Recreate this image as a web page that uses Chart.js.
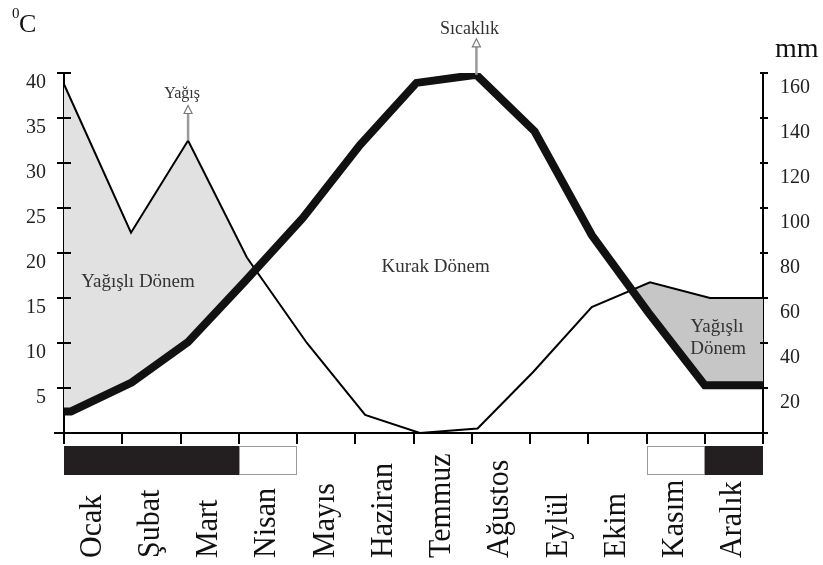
<!DOCTYPE html>
<html>
<head>
<meta charset="utf-8">
<script src="https://cdn.jsdelivr.net/npm/chart.js@4.4.0/dist/chart.umd.min.js"></script>
<style>
  html, body { margin: 0; padding: 0; background: #fff; }
</style>
</head>
<body>
<canvas id="climateChart" width="823" height="565"></canvas>
<script>
// aylar
const months = ['Ocak', 'Şubat', 'Mart', 'Nisan', 'Mayıs', 'Haziran', 'Temmuz', 'Ağustos', 'Eylül', 'Ekim', 'Kasım', 'Aralık'];

// sıcaklık (°C), x = ay ekseni üzerindeki konum
const tempX = [0, 0.12, 1.16, 2.13, 3.1, 4.1, 5.08, 6.05, 7.08, 8.08, 9.06, 10.03, 11.0, 12];
const tempC = [2.4, 2.4, 5.6, 10.1, 16.8, 23.9, 32.0, 38.9, 39.8, 33.5, 22.0, 13.4, 5.3, 5.3];

// yağış (mm)
const precipX = [0, 1.15, 2.13, 3.14, 4.17, 5.17, 6.11, 7.1, 8.05, 9.06, 10.06, 11.09, 12];
const precipMm = [155, 89, 130, 78, 40, 8, 0, 2, 27, 56, 67, 60, 60];

// eksen etiketleri
const tempTicks = [0, 5, 10, 15, 20, 25, 30, 35, 40];
const precipTicks = [0, 20, 40, 60, 80, 100, 120, 140, 160];

// alt şerit
const wetMonths = ['Ocak', 'Şubat', 'Mart', 'Aralık'];
const transitionMonths = ['Nisan', 'Kasım'];

const SERIF = "'Liberation Serif', 'Times New Roman', serif";

function fillShade(context) {
    const chart = context.chart;
    const area = chart.chartArea;
    if (!area) return 'rgba(0,0,0,0)';
    const g = chart.ctx.createLinearGradient(area.left, 0, area.right, 0);
    g.addColorStop(0, '#e1e1e1');
    g.addColorStop(0.5, '#e1e1e1');
    g.addColorStop(0.5, '#c6c6c6');
    g.addColorStop(1, '#c6c6c6');
    return g;
}

function drawArrow(ctx, px, py, len) {
    const tip = py - len;
    ctx.strokeStyle = '#9a9a9a';
    ctx.lineWidth = 2.5;
    ctx.beginPath();
    ctx.moveTo(px, py);
    ctx.lineTo(px, tip + 8);
    ctx.stroke();
    ctx.beginPath();
    ctx.moveTo(px, tip);
    ctx.lineTo(px - 4, tip + 8);
    ctx.lineTo(px + 4, tip + 8);
    ctx.closePath();
    ctx.fillStyle = '#fff';
    ctx.fill();
    ctx.lineWidth = 1.2;
    ctx.strokeStyle = '#7a7a7a';
    ctx.stroke();
}

const extras = {
    id: 'extras',
    afterDraw(chart) {
        const ctx = chart.ctx;
        const xs = chart.scales.x, yT = chart.scales.yTemp, yP = chart.scales.yPrecip;
        const area = chart.chartArea;
        ctx.save();

        // eksen içine taşan çentikler
        ctx.strokeStyle = '#000';
        ctx.lineWidth = 2;
        ctx.beginPath();
        yT.ticks.forEach(t => {
            const py = yT.getPixelForValue(t.value);
            ctx.moveTo(area.left, py); ctx.lineTo(area.left + 7, py);
        });
        yP.ticks.forEach(t => {
            const py = yP.getPixelForValue(t.value);
            ctx.moveTo(area.right - 3, py); ctx.lineTo(area.right, py);
        });
        ctx.moveTo(area.left - 10, area.bottom); ctx.lineTo(area.left, area.bottom);
        ctx.moveTo(area.right, area.bottom); ctx.lineTo(area.right + 5, area.bottom);
        ctx.stroke();

        // yağışlı / geçiş ayları şeridi (bitişik aylar tek blok)
        const barTop = area.bottom + 13, barH = 29;
        const wetIdx = wetMonths.map(m => months.indexOf(m)).sort((a, b) => a - b);
        let runs = [];
        wetIdx.forEach(i => {
            const last = runs[runs.length - 1];
            if (last && last[1] === i) last[1] = i + 1; else runs.push([i, i + 1]);
        });
        ctx.fillStyle = '#231f20';
        runs.forEach(r => {
            const x0 = Math.round(xs.getPixelForValue(r[0])), x1 = Math.round(xs.getPixelForValue(r[1]));
            ctx.fillRect(x0, barTop, x1 - x0, barH);
        });
        transitionMonths.forEach(m => {
            const i = months.indexOf(m);
            const x0 = Math.round(xs.getPixelForValue(i)), x1 = Math.round(xs.getPixelForValue(i + 1));
            ctx.fillStyle = '#fff';
            ctx.fillRect(x0, barTop, x1 - x0, barH);
            ctx.strokeStyle = '#9a9a9a';
            ctx.lineWidth = 1;
            ctx.strokeRect(x0 + 0.5, barTop + 0.5, x1 - x0 - 1, barH - 1);
        });

        // ay isimleri (aşağıdan yukarı)
        ctx.fillStyle = '#111';
        ctx.font = '30px ' + SERIF;
        ctx.textAlign = 'left';
        ctx.textBaseline = 'middle';
        months.forEach((m, i) => {
            const px = xs.getPixelForValue(i + 0.5);
            ctx.save();
            ctx.translate(px - 1, 558);
            ctx.rotate(-Math.PI / 2);
            ctx.scale(1, 1.08);
            ctx.fillText(m, 0, 0);
            ctx.restore();
        });

        // oklar
        const pIdx = precipMm.indexOf(Math.max(...precipMm.slice(1, 4)));
        const ppx = xs.getPixelForValue(precipX[pIdx]), ppy = yP.getPixelForValue(precipMm[pIdx]);
        drawArrow(ctx, ppx, ppy, 35);
        const tIdx = tempC.indexOf(Math.max(...tempC));
        const tpx = xs.getPixelForValue(tempX[tIdx]), tpy = yT.getPixelForValue(tempC[tIdx]);
        drawArrow(ctx, tpx, tpy, 36);

        ctx.fillStyle = '#333';
        ctx.textAlign = 'center';
        ctx.textBaseline = 'alphabetic';
        ctx.font = '16px ' + SERIF;
        ctx.fillText('Yağış', ppx - 6, ppy - 43);
        ctx.font = '18px ' + SERIF;
        ctx.fillText('Sıcaklık', tpx - 7, tpy - 41);

        // dönem etiketleri
        ctx.font = '19px ' + SERIF;
        ctx.fillText('Yağışlı Dönem', xs.getPixelForValue(1.27), yT.getPixelForValue(16.26));
        ctx.fillText('Kurak Dönem', xs.getPixelForValue(6.38), yT.getPixelForValue(17.86));
        ctx.fillText('Yağışlı', xs.getPixelForValue(11.21), yT.getPixelForValue(11.26));
        ctx.fillText('Dönem', xs.getPixelForValue(11.23), yT.getPixelForValue(8.74));

        // birimler
        ctx.fillStyle = '#111';
        ctx.textAlign = 'left';
        ctx.font = '15px ' + SERIF;
        ctx.fillText('0', area.left - 52, 18);
        ctx.font = '26px ' + SERIF;
        ctx.fillText('C', area.left - 45, 32);
        ctx.font = '28px ' + SERIF;
        ctx.fillText('mm', area.right + 12, 57);

        ctx.restore();
    }
};

const ctx = document.getElementById('climateChart').getContext('2d');
new Chart(ctx, {
    type: 'line',
    data: {
        datasets: [{
            label: 'Sıcaklık',
            data: tempX.map((x, i) => ({ x: x, y: tempC[i] })),
            yAxisID: 'yTemp',
            borderColor: '#111',
            borderWidth: 8,
            borderJoinStyle: 'miter',
            pointRadius: 0,
            fill: false,
            order: 0
        }, {
            label: 'Yağış',
            data: precipX.map((x, i) => ({ x: x, y: precipMm[i] })),
            yAxisID: 'yPrecip',
            borderColor: '#000',
            borderWidth: 2,
            pointRadius: 0,
            backgroundColor: fillShade,
            fill: { target: 0, below: 'rgba(0,0,0,0)' },
            order: 1
        }]
    },
    options: {
        responsive: false,
        animation: false,
        layout: { padding: { top: 73, left: 0, right: 0, bottom: 0 } },
        plugins: { legend: { display: false }, tooltip: { enabled: false } },
        scales: {
            x: {
                type: 'linear',
                min: 0, max: 12,
                ticks: { stepSize: 1, display: false },
                grid: { drawOnChartArea: false, tickLength: 11, tickColor: '#000', lineWidth: 2 },
                border: { color: '#000', width: 2 },
                afterFit: s => { s.height = 132; }
            },
            yTemp: {
                position: 'left',
                min: 0, max: 40,
                afterBuildTicks: s => { s.ticks = tempTicks.map(v => ({ value: v })); },
                ticks: {
                    callback: v => v === 0 ? '' : v,
                    color: '#222',
                    font: { family: SERIF, size: 20 },
                    padding: 11,
                    labelOffset: 10
                },
                grid: { drawOnChartArea: false, tickLength: 7, tickColor: '#000', lineWidth: 2 },
                border: { color: '#000', width: 2 },
                afterFit: s => { s.width = 64; }
            },
            yPrecip: {
                position: 'right',
                min: 0, max: 160,
                afterBuildTicks: s => { s.ticks = precipTicks.map(v => ({ value: v })); },
                ticks: {
                    callback: v => v === 0 ? '' : v,
                    color: '#222',
                    font: { family: SERIF, size: 20 },
                    padding: 12,
                    labelOffset: 15
                },
                grid: { drawOnChartArea: false, tickLength: 5, tickColor: '#000', lineWidth: 2 },
                border: { color: '#000', width: 2 },
                afterFit: s => { s.width = 60; }
            }
        }
    },
    plugins: [extras]
});
</script>
</body>
</html>
